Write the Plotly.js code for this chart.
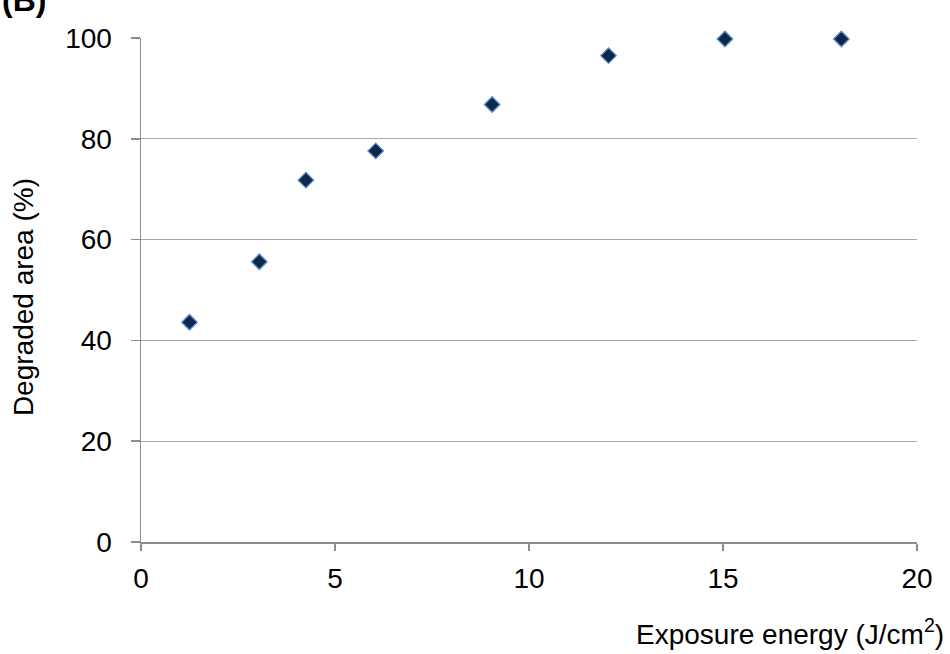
<!DOCTYPE html>
<html>
<head>
<meta charset="utf-8">
<script src="https://cdn.plot.ly/plotly-3.0.1.min.js"></script>
<style>html,body{margin:0;padding:0;background:#fff;}#chart{width:950px;height:654px;}</style>
</head>
<body>
<div id="chart"></div>
<script>
const exposureEnergy = [1.25, 3.05, 4.25, 6.05, 9.05, 12.05, 15.05, 18.05];
const degradedArea = [43.6, 55.6, 71.8, 77.6, 86.8, 96.5, 99.8, 99.8];
const xTicks = [0, 5, 10, 15, 20];
const yTicks = [0, 20, 40, 60, 80, 100];

const font = 'Liberation Sans, Arial, sans-serif';
const trace = {
  x: exposureEnergy, y: degradedArea, type: 'scatter', mode: 'markers',
  cliponaxis: false,
  marker: {symbol: 'diamond', size: 12, color: '#0f2847', line: {color: '#5b8fd0', width: 1.3}},
  hoverinfo: 'skip'
};
const layout = {
  width: 950, height: 654,
  margin: {l: 141, r: 33, t: 38, b: 112},
  paper_bgcolor: '#fff', plot_bgcolor: '#fff',
  showlegend: false,
  font: {family: font, color: '#000'},
  xaxis: {
    range: [0, 20], tickvals: xTicks, ticktext: xTicks.map(String),
    showgrid: false, zeroline: false, showline: true, linecolor: '#8c8c8c', linewidth: 1.5,
    ticks: 'outside', ticklen: 7, tickcolor: '#8c8c8c', tickwidth: 1.5, ticklabelstandoff: 4,
    tickfont: {size: 28, family: font, color: '#000'}, fixedrange: true
  },
  yaxis: {
    range: [0, 100], tickvals: yTicks, ticktext: yTicks.map(String),
    showgrid: true, gridcolor: '#a6a6a6', gridwidth: 1.2, zeroline: false,
    showline: true, linecolor: '#8c8c8c', linewidth: 1.5,
    ticks: 'outside', ticklen: 9, tickcolor: '#8c8c8c', tickwidth: 1.5, ticklabelstandoff: 13,
    tickfont: {size: 28, family: font, color: '#000'}, fixedrange: true
  },
  annotations: [
    {text: 'Exposure energy (J/cm<sup>2</sup>)', xref: 'paper', yref: 'paper',
     x: 1.037, y: -0.178, xanchor: 'right', yanchor: 'middle', showarrow: false,
     font: {size: 28, family: font, color: '#000'}},
    {text: 'Degraded area (%)', xref: 'paper', yref: 'paper',
     x: -0.152, y: 0.486, xanchor: 'center', yanchor: 'middle', textangle: -90, showarrow: false,
     font: {size: 28, family: font, color: '#000'}},
    {text: '<b>(B)</b>', xref: 'paper', yref: 'paper',
     x: -0.182, y: 1.075, xanchor: 'left', yanchor: 'middle', showarrow: false,
     font: {size: 32, family: font, color: '#000'}}
  ]
};
Plotly.newPlot('chart', [trace], layout, {displayModeBar: false, staticPlot: true});
</script>
</body>
</html>
